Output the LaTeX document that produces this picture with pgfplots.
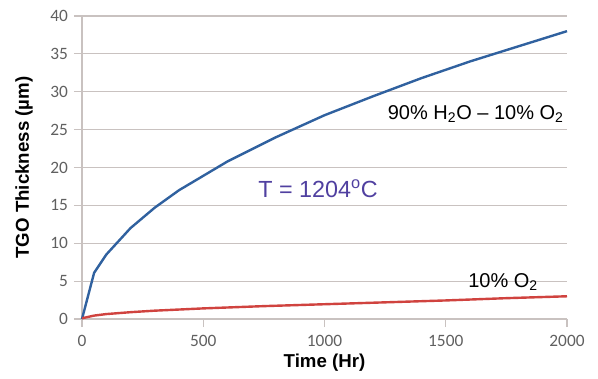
\documentclass[border=0pt]{standalone}
\usepackage{fontspec}
\setmainfont{Liberation Sans}
\newfontfamily\calib{Carlito}
\usepackage{pgfplots}
\pgfplotsset{compat=1.18}
\definecolor{bluec}{HTML}{30619F}
\definecolor{redc}{HTML}{D0433F}
\definecolor{purp}{HTML}{5040A0}
\definecolor{gridc}{HTML}{C9C2C0}
\definecolor{tickc}{HTML}{606060}
\begin{document}
\begin{tikzpicture}
\begin{axis}[
  scale only axis,
  width=363.75pt, height=227.25pt,
  xmin=0, xmax=2000, ymin=0, ymax=40,
  xtick={0,500,1000,1500,2000},
  ytick={0,5,10,15,20,25,30,35,40},
  axis x line*=bottom, axis y line*=left,
  axis line style={draw=gridc, line width=0.8pt},
  x axis line style={draw=none},
  ymajorgrids, grid style={draw=gridc, line width=0.8pt},
  tick align=outside, major tick length=6pt,
  tick style={draw=gridc, line width=0.8pt},
  xtick style={draw=gridc},
  /pgf/number format/assume math mode=true,
  /pgf/number format/1000 sep={},
  ticklabel style={font=\calib\fontsize{13}{15}\selectfont, text=tickc},
  yticklabel style={xshift=-1pt},
  xticklabel style={yshift=-3pt},
  xlabel={\bfseries Time (Hr)},
  ylabel={\bfseries TGO Thickness (\textmu m)},
  label style={font=\fontsize{14}{16}\selectfont},
  xlabel style={at={(axis description cs:0.5,0)}, anchor=center, yshift=-33pt},
  ylabel style={at={(axis description cs:0,0.5)}, anchor=center, xshift=0pt, yshift=43.5pt},
  clip=false,
]
\addplot[color=bluec, line width=1.8pt] coordinates {
(0,0) (50,6.1) (100,8.5) (200,12.0) (300,14.7) (400,17.0) (500,18.9) (600,20.8)
(800,24.0) (1000,26.9) (1200,29.4) (1400,31.8) (1600,34.0) (1800,36.0) (2000,38.0)};
\addplot[color=redc, line width=1.8pt] coordinates {
(0,0.1) (50,0.45) (100,0.65) (200,0.9) (300,1.1) (500,1.4) (750,1.7)
(1000,1.95) (1250,2.2) (1500,2.45) (1750,2.75) (2000,3.0)};
\node[anchor=base west, inner sep=0pt, font=\fontsize{15}{17}\selectfont] at (axis cs:1260,26.3) {90\% H\textsubscript{2}O -- 10\% O\textsubscript{2}};
\node[anchor=base west, inner sep=0pt, font=\fontsize{17.5}{19}\selectfont, text=purp] at (axis cs:726,16.1) {T = 1204\textsuperscript{o}C};
\node[anchor=base west, inner sep=0pt, font=\fontsize{15}{17}\selectfont] at (axis cs:1592,4.2) {10\% O\textsubscript{2}};
\end{axis}
\pgfresetboundingbox
\path ([xshift=-61.5pt,yshift=-44.25pt]current axis.south west) rectangle ([xshift=23.25pt,yshift=12pt]current axis.north east);
\end{tikzpicture}
\end{document}
